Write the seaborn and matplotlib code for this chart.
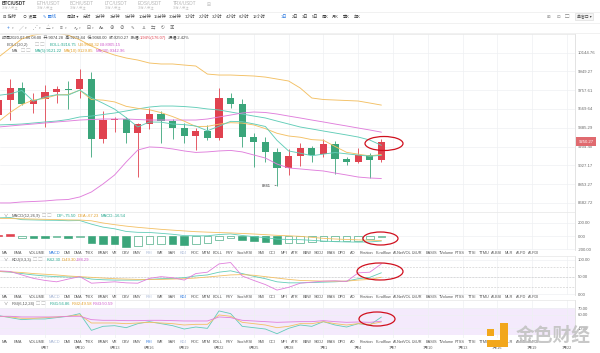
import numpy as np
import pandas as pd
import matplotlib
matplotlib.use("Agg")
import matplotlib.pyplot as plt
import seaborn as sns
from matplotlib.patches import Ellipse, Rectangle
from matplotlib.lines import Line2D
from matplotlib.ticker import NullLocator

# ---------------- data ----------------
tick_labels = ["6月7", "6月10", "6月13", "6月16", "6月19", "6月22", "6月25", "6月28",
               "7月1", "7月4", "7月7", "7月10", "7月13", "7月16", "7月19", "7月22"]

opens = [9510, 9659, 9777, 9616, 9666, 9736, 9769, 9767, 9868, 9274, 9458, 9471, 9338, 9422, 9520, 9451, 9380,
         9306, 9354, 9284, 9676, 9619, 9293, 9245, 9150, 9006, 9115, 9188, 9131, 9229, 9084, 9056, 9125, 9074.28]
highs = [9689, 9868, 9844, 9729, 9810, 9800, 9854, 9971, 9946, 9550, 9494, 9494, 9432, 9577, 9553, 9471, 9429,
         9383, 9413, 9777, 9726, 9666, 9338, 9293, 9188, 9179, 9236, 9210, 9277, 9258, 9109, 9188, 9141, 9279.44]
lows = [9481, 9461, 9609, 9533, 9396, 9632, 9567, 9676, 9103, 9242, 9347, 9242, 8917, 9371, 9236, 9274, 9242,
        9172, 9267, 9267, 9577, 9198, 9009, 9062, 8841, 8938, 9022, 9062, 9109, 8944, 9031, 9050, 8913, 9060.00]
closes = [9659, 9777, 9619, 9659, 9736, 9769, 9759, 9871, 9274, 9461, 9474, 9338, 9419, 9520, 9451, 9380, 9309,
          9354, 9284, 9676, 9619, 9293, 9245, 9156, 9006, 9115, 9188, 9125, 9229, 9084, 9056, 9125, 9074, 9250.27]

ma5 = [9706, 9721, 9755, 9647, 9690, 9712, 9708, 9759, 9682, 9627, 9568, 9484, 9393, 9442, 9440, 9422, 9416,
       9403, 9356, 9401, 9448, 9445, 9423, 9398, 9264, 9163, 9142, 9118, 9133, 9148, 9136, 9124, 9114, 9121.22]
ma10 = [9447, 9535, 9613, 9659, 9675, 9709, 9715, 9757, 9664, 9658, 9640, 9596, 9576, 9562, 9534, 9495, 9450,
        9398, 9399, 9421, 9435, 9431, 9413, 9377, 9332, 9306, 9294, 9271, 9265, 9206, 9150, 9133, 9116, 9129.85]
ma30 = [9393, 9403, 9413, 9422, 9432, 9442, 9451, 9461, 9466, 9471, 9471, 9471, 9466, 9461, 9461, 9461, 9461,
        9461, 9471, 9491, 9510, 9530, 9540, 9535, 9520, 9500, 9481, 9461, 9442, 9422, 9403, 9383, 9364, 9342.96]
boll_mid = [9413, 9417, 9422, 9432, 9442, 9451, 9466, 9491, 9500, 9515, 9530, 9550, 9570, 9589, 9599, 9599, 9594,
            9585, 9570, 9560, 9540, 9520, 9500, 9481, 9451, 9422, 9393, 9374, 9354, 9335, 9316, 9296, 9267, 9216.75]
boll_ub = [10098, 10193, 10290, 10330, 10350, 10350, 10330, 10280, 10214, 10161, 10119, 10088, 10067, 10036, 10026,
           10026, 10015, 10005, 9922, 9912, 9912, 9907, 9902, 9891, 9871, 9851, 9780, 9679, 9664, 9659, 9654, 9649,
           9629, 9608.32]
boll_lb = [8683, 8683, 8692, 8696, 8701, 8710, 8714, 8737, 8782, 8855, 8938, 9059, 9172, 9201, 9196, 9182, 9163,
           9149, 9154, 9163, 9168, 9154, 9125, 9096, 9040, 9003, 8994, 8984, 8975, 8956, 8938, 8919, 8910, 8905.15]

macd_hist = [15, 30, -25, -25, -25, -22, -25, -15, -100, -125, -125, -160, -150, -125, -120, -125, -140, -125,
             -110, -60, -30, -60, -80, -90, -115, -110, -100, -90, -82, -80, -75, -68, -52, -16.54]
macd_dif = [272, 277, 245, 241, 237, 235, 229, 232, 178, 133, 108, 68, 55, 53, 40, 26, 6, 3, 3, 22, 31, 8, -10,
            -25, -47, -52, -55, -65, -76, -85, -89, -92, -89, -75.50]
macd_dea = [265, 262, 258, 254, 250, 246, 242, 240, 228, 195, 170, 148, 130, 115, 100, 88, 76, 65, 58, 52, 46, 38,
            30, 20, 10, 3, -5, -20, -35, -45, -52, -58, -63, -67.23]

kdj_k = [66, 64, 60, 56, 53, 51, 50, 50, 44, 42, 41, 41, 41, 43, 45, 46, 48, 53, 56, 64, 68, 60, 52, 45, 36, 33,
         33, 34, 35, 36, 38, 45, 49, 62.30]
kdj_d = [66, 65, 63, 60, 58, 56, 53, 51, 49, 47, 45, 44, 43, 43, 43, 44, 45, 47, 50, 53, 56, 57, 55, 51, 47, 43,
         40, 39, 38, 38, 38, 41, 43, 49.30]
kdj_j = [68, 66, 56, 46, 40, 36, 44, 51, 32, 34, 36, 33, 32, 46, 51, 48, 41, 60, 64, 88, 92, 53, 40, 28, 12, 20,
         32, 35, 38, 39, 37, 62, 64, 88.29]

rsi1 = [59, 56, 53, 54, 54, 56, 58, 62, 37, 43, 44, 41, 47, 50, 47, 44, 39, 42, 40, 66, 62, 43, 41, 39, 32, 40,
        45, 43, 50, 45, 42, 47, 45, 56.86]
rsi2 = [58, 57, 55, 55, 56, 57, 58, 60, 48, 48, 48, 47, 48, 49, 48, 47, 45, 46, 46, 60, 58, 49, 47, 45, 41, 43,
        47, 47, 50, 47, 45, 47, 46, 49.58]
rsi3 = [58, 58, 57, 57, 57, 57, 58, 58, 53, 52, 52, 51.5, 51.5, 52, 52, 51.5, 51, 51, 51, 57, 56, 52, 51, 50, 49,
        49.5, 50, 50, 51.5, 50, 49, 49.5, 49, 50.59]

price_ticks = [8682.72, 8853.27, 9027.17, 9204.40, 9385.29, 9569.64, 9757.61, 9949.27, 10144.76]
macd_ticks = [200, 0, -200]
kdj_ticks = [100, 50, 0]
rsi_ticks = [70, 60, 40]

pairs = ["BTC/USDT", "ETH/USDT", "BCH/USDT", "LTC/USDT", "EOS/USDT", "TRX/USDT"]
periods = ["分时", "1分钟", "3分钟", "5分钟", "10分钟", "15分钟", "30分钟", "1小时", "2小时", "3小时", "4小时",
           "6小时", "12小时", "1日", "2日", "3日", "5日", "周K", "月K", "季K", "年K"]
indicators = ["MA", "EMA", "VOLUME", "MACD", "DMI", "DMA", "TRIX", "BRAR", "VR", "OBV", "EMV", "RSI", "WR", "SAR",
              "KDJ", "ROC", "MTM", "BOLL", "PSY", "StochRSI", "SMI", "CCI", "MFI", "ATR", "BBW", "SKDJ", "BIAS",
              "DPO", "AO", "Position", "Fundflow", "AI-NetVOL", "LSUR", "BASIS", "TVolume", "FTSS", "TTSI", "TTMU",
              "AI-BSI", "MLR", "AI-PD", "AI-FDI"]

# ---------------- layout / style ----------------
W, H = 600, 353
XLIM = (0.12, 49.69)
PLOT_R = 575
UP, DOWN = "#e0424f", "#3aa57a"
L_TEAL, L_ORANGE, L_PINK = "#62cdb8", "#f3c064", "#e07fdc"
T_TEAL, T_ORANGE, T_PINK = "#25a88f", "#e3a02c", "#cf5ccb"
BLUE = "#2f7be0"
LIGHT = "#a9b8d6"
GRID = "#eef0f3"

sns.set_theme(style="white")
plt.rcParams["font.family"] = ["Liberation Sans", "Noto Sans CJK SC", "DejaVu Sans"]
plt.rcParams["axes.unicode_minus"] = False

fig = plt.figure(figsize=(6.0, 3.53), dpi=100)
fig.patch.set_facecolor("white")
renderer = fig.canvas.get_renderer()


def fx(x):
    return x / W


def fy(y):
    return 1 - y / H


def T(x, y, s, size=3.0, color="#555555", ha="left", **kw):
    return fig.text(fx(x), fy(y), s, fontsize=size, color=color, ha=ha, va="center", **kw)


def seq(x, y, parts, size=3.0):
    for s, c in parts:
        t = T(x, y, s, size, c)
        x += t.get_window_extent(renderer=renderer).width
    return x


def hline(y, x0=0, x1=W, color="#ebebeb", lw=0.5):
    fig.add_artist(Line2D([fx(x0), fx(x1)], [fy(y), fy(y)], transform=fig.transFigure, color=color, lw=lw))


def panel(top, bottom):
    return fig.add_axes([0, fy(bottom), PLOT_R / W, (bottom - top) / H])


dates = pd.date_range("2020-06-03", periods=len(opens), freq="D")
xi = np.asarray((dates - dates[0]).days, dtype=float)
tick_dates = pd.date_range("2020-06-07", periods=len(tick_labels), freq="3D")
tick_pos = np.asarray((tick_dates - dates[0]).days, dtype=float)


def style(ax, yt, ylab):
    ax.set_xlim(*XLIM)
    ax.set_xticks(tick_pos)
    ax.set_yticks(yt)
    ax.set_yticklabels(ylab)
    ax.yaxis.set_minor_locator(NullLocator())
    ax.yaxis.tick_right()
    ax.tick_params(axis="y", length=0, pad=2.2, labelsize=3.1, labelcolor="#6a6a6a")
    ax.tick_params(axis="x", length=0, labelbottom=False)
    ax.grid(True, color=GRID, lw=0.5)
    ax.set_axisbelow(True)
    ax.spines["left"].set_visible(False)
    ax.spines["bottom"].set_visible(False)
    ax.spines["right"].set_color("#dedede")
    ax.spines["right"].set_linewidth(0.6)
    ax.spines["top"].set_color("#e6e6e6")
    ax.spines["top"].set_linewidth(0.5)
    ax.set_xlabel("")
    ax.set_ylabel("")
    ax.set_facecolor("none")


# ---------------- main price panel ----------------
ax = panel(34, 212)
o, h, l, c = map(np.asarray, (opens, highs, lows, closes))
cols = np.where(c >= o, UP, DOWN)
ax.vlines(xi, l, h, colors=cols, lw=0.6, zorder=1.5)
ax.bar(xi, np.maximum(np.abs(c - o), 3), bottom=np.minimum(o, c), width=0.62, color=cols, lw=0, zorder=1.6)

main_df = pd.DataFrame({"i": xi, "UB": boll_ub, "LB": boll_lb, "BOLL": boll_mid,
                        "MA30": ma30, "MA10": ma10, "MA5": ma5})
main_long = main_df.melt(id_vars="i", var_name="s", value_name="v")
pal_main = {"UB": L_ORANGE, "LB": L_PINK, "BOLL": L_TEAL, "MA30": L_PINK, "MA10": L_ORANGE, "MA5": L_TEAL}
sns.lineplot(data=main_long, x="i", y="v", hue="s", palette=pal_main, lw=0.65, legend=False, ax=ax,
             zorder=2, estimator=None)
ax.set_yscale("log")
ax.set_ylim(8602, 10342)
style(ax, price_ticks, [f"{v:.2f}" for v in price_ticks])

imin = int(np.argmin(l))
ax.annotate(f"{l[imin]:.0f}", xy=(xi[imin], l[imin]), xytext=(-4.2, 0), textcoords="offset points",
            ha="right", va="center", fontsize=3.0, color="#333333",
            arrowprops=dict(arrowstyle="-", lw=0.4, color="#333333", shrinkA=0.3, shrinkB=0.5))
ax.annotate(f"{c[-1]:.2f}", xy=(1.0, c[-1]), xycoords=("axes fraction", "data"), xytext=(2.6, 0),
            textcoords="offset points", ha="left", va="center", fontsize=3.1, color="white",
            bbox=dict(boxstyle="square,pad=0.55", fc="#e06a6f", ec="none"), annotation_clip=False, zorder=10)

# ---------------- MACD ----------------
axm = panel(212, 250)
hist = np.asarray(macd_hist, dtype=float)
prev = np.r_[hist[0], hist[:-1]]
grow = np.abs(hist) >= np.abs(prev)
base = np.where(hist >= 0, UP, DOWN)
face = np.where(grow, base, "white")
axm.bar(xi, hist, width=0.64, color=face, edgecolor=base, lw=0.45, zorder=2)
macd_long = pd.DataFrame({"i": xi, "DIF": macd_dif, "DEA": macd_dea}).melt(id_vars="i", var_name="s", value_name="v")
sns.lineplot(data=macd_long, x="i", y="v", hue="s", palette={"DIF": L_TEAL, "DEA": L_ORANGE}, lw=0.6,
             legend=False, ax=axm, zorder=3, estimator=None)
axm.set_ylim(-210, 360)
style(axm, macd_ticks, [f"{v:.2f}" for v in macd_ticks])

# ---------------- KDJ ----------------
axk = panel(256, 295)
for v in (80, 50, 20):
    axk.axhline(v, color="#cccccc", lw=0.45, ls=(0, (3, 2)), zorder=1)
kdj_long = pd.DataFrame({"i": xi, "K": kdj_k, "D": kdj_d, "J": kdj_j}).melt(id_vars="i", var_name="s", value_name="v")
sns.lineplot(data=kdj_long, x="i", y="v", hue="s", palette={"K": L_TEAL, "D": L_ORANGE, "J": L_PINK}, lw=0.6,
             legend=False, ax=axk, zorder=3, estimator=None)
axk.set_ylim(-2.3, 111)
style(axk, kdj_ticks, [f"{v:.2f}" for v in kdj_ticks])

# ---------------- RSI ----------------
axr = panel(300, 338)
axr.axhspan(30, 70, color="#f4eafc", lw=0, zorder=0.5)
rsi_long = pd.DataFrame({"i": xi, "R1": rsi1, "R2": rsi2, "R3": rsi3}).melt(id_vars="i", var_name="s", value_name="v")
sns.lineplot(data=rsi_long, x="i", y="v", hue="s", palette={"R1": L_TEAL, "R2": L_ORANGE, "R3": L_PINK}, lw=0.6,
             legend=False, ax=axr, zorder=3, estimator=None)
axr.set_ylim(25.6, 82.3)
style(axr, rsi_ticks, [f"{v:.2f}" for v in rsi_ticks])
axr.set_xticklabels(tick_labels)
axr.tick_params(axis="x", labelbottom=True, labelsize=2.8, labelcolor="#666666", pad=5.6)

# ---------------- header / chrome ----------------
hline(11.7)
hline(22.7)
hline(33.2)

tab_x = [2, 37, 70, 105, 138, 173]
for k, (name, xx) in enumerate(zip(pairs, tab_x)):
    T(xx, 3.8, name, 3.4, "#333333" if k == 0 else "#b5b5b5", weight="bold" if k == 0 else "normal")
    T(xx, 8.6, "30万人关注", 2.3, "#c4c4c4")
T(207, 4.5, "⊞", 3.4, "#bbbbbb")

T(3, 16.7, "⊟ 指标", 3.0, "#444444")
T(23, 16.7, "⊙ 设置", 3.0, "#444444")
T(43, 16.7, "✎ 画线", 3.0, BLUE)
T(67, 16.7, "周期 ▾", 3.0, "#444444")
per_x = [87, 100, 115, 130, 145, 160, 175, 190, 204, 217, 231, 244, 259, 284, 295, 305, 315, 325, 335, 346, 357]
for name, xx in zip(periods, per_x):
    T(xx, 16.7, name, 3.0, BLUE if name == "1日" else "#444444", ha="center")
T(548, 16.7, "⊞", 3.2, "#888888", ha="center")
T(558, 16.7, "⊡", 3.2, "#888888", ha="center")
T(567, 16.7, "▢", 3.2, "#888888", ha="center")
T(584, 16.7, "单窗口 ▾", 2.8, "#444444", ha="center",
  bbox=dict(boxstyle="square,pad=0.4", fc="#f5f5f5", ec="#d8d8d8", lw=0.4))

icons = ["+", "╱", "⋰", "△", "≡", "∿", "⊟"]
for k, s in enumerate(icons):
    xx = 8 + 13.4 * k
    T(xx, 27.7, s, 3.4, BLUE if k == 0 else "#666666", ha="center")
    T(xx + 4.5, 28.0, "▾", 2.3, "#999999", ha="center")
for s, xx in zip(["Aa", "⊕", "⊘", "✎", "♙", "⇆", "◴", "▣"], [102, 112, 122, 132, 143, 153, 163, 172]):
    T(xx, 27.7, s, 3.2, "#666666", ha="center")

seq(2, 37.6, [(f"时间2020-07-06 08:00  开:{opens[-1]:.2f}  高:{highs[-1]:.2f}  低:{lows[-1]:.2f}  "
               f"收:{closes[-1]:.2f}  涨幅:", "#444444"),
              (f"{(closes[-1] / 9074.20 - 1) * 100:.2f}%({closes[-1] - 9074.20:.2f})", UP),
              ("  振幅:2.42%", "#444444")], size=2.9)

T(7, 44.6, "BOLL(20,2)", 3.0, "#555555")
T(35, 44.6, "▢ ▢", 3.0, "#c4c4c4")
T(50, 44.6, f"BOLL:{boll_mid[-1]:.2f}", 3.0, T_TEAL)
T(77.5, 44.6, f"UB:{boll_ub[-1]:.2f}", 3.0, T_ORANGE)
T(100, 44.6, f"LB:{boll_lb[-1]:.2f}", 3.0, T_PINK)
T(12, 51.2, "MA", 3.0, "#555555")
T(21, 51.2, "▢ ▢", 3.0, "#c4c4c4")
T(35, 51.2, f"MA(5):{ma5[-1]:.2f}", 3.0, T_TEAL)
T(64, 51.2, f"MA(10):{ma10[-1]:.2f}", 3.0, T_ORANGE)
T(96, 51.2, f"MA(30):{ma30[-1]:.2f}", 3.0, T_PINK)

T(4, 215.6, "∨", 3.0, "#666666")
T(12, 215.6, "MACD(12,26,9)", 3.0, "#555555")
T(42, 215.6, "▢ ▢", 3.0, "#c4c4c4")
T(57, 215.6, f"DIF:{macd_dif[-1]:.2f}", 3.0, T_TEAL)
T(77.5, 215.6, f"DEA:{macd_dea[-1]:.2f}", 3.0, T_ORANGE)
T(101, 215.6, f"MACD:{macd_hist[-1]:.2f}", 3.0, T_TEAL)

T(4, 259.6, "∨", 3.0, "#666666")
T(12, 259.6, "KDJ(9,3,3)", 3.0, "#555555")
T(33, 259.6, "▢ ▢", 3.0, "#c4c4c4")
T(47, 259.6, f"K:{kdj_k[-1]:.2f}", 3.0, T_TEAL)
T(62, 259.6, f"D:{kdj_d[-1]:.2f}", 3.0, T_ORANGE)
T(76, 259.6, f"J:{kdj_j[-1]:.2f}", 3.0, T_PINK)

T(4, 303.6, "∨", 3.0, "#666666")
T(12, 303.6, "RSI(6,12,24)", 3.0, "#555555")
T(36, 303.6, "▢ ▢", 3.0, "#c4c4c4")
T(50, 303.6, f"RSI1:{rsi1[-1]:.2f}", 3.0, T_TEAL)
T(71.5, 303.6, f"RSI2:{rsi2[-1]:.2f}", 3.0, T_ORANGE)
T(93, 303.6, f"RSI3:{rsi3[-1]:.2f}", 3.0, T_PINK)

ind_x = [5, 18, 37, 54, 67, 78, 89, 103, 115, 126, 137, 149, 160, 172, 183, 195, 206, 218, 230, 245, 261, 272, 284,
         295, 307, 319, 331, 342, 353, 366, 383, 402, 417, 431, 446, 460, 472, 484, 497, 509, 521, 534]
rows = [(252.6, "MACD"), (297.0, "KDJ"), (341.6, "RSI")]
used = {"MACD", "KDJ", "RSI"}
for yy, active in rows:
    for name, xx in zip(indicators, ind_x):
        col = BLUE if name == active else (LIGHT if name in used else "#555555")
        T(xx, yy, name, 2.75, col, ha="center")

# red hand-drawn ellipses
for cx, cy, w, hh in [(384, 143.5, 38, 14), (380.5, 238.5, 35, 13), (380, 271.5, 46, 17), (377, 319, 36, 14)]:
    fig.add_artist(Ellipse((fx(cx), fy(cy)), w / W, hh / H, transform=fig.transFigure, fill=False,
                           ec="#d0101e", lw=0.9, zorder=20))

# watermark logo
GOLD = "#f2a71c"
for (x0, y0, w, hh) in [(500, 323, 8, 24), (487, 340, 21, 7), (487, 329, 7, 7)]:
    fig.add_artist(Rectangle((fx(x0), fy(y0 + hh)), w / W, hh / H, transform=fig.transFigure, fc=GOLD, ec="none",
                             zorder=15))
T(553, 335.5, "金色财经", 13.5, "#c2c2c2", ha="center", weight="bold", zorder=15, alpha=0.9)

fig.savefig("out.png", dpi=100, facecolor="white")
